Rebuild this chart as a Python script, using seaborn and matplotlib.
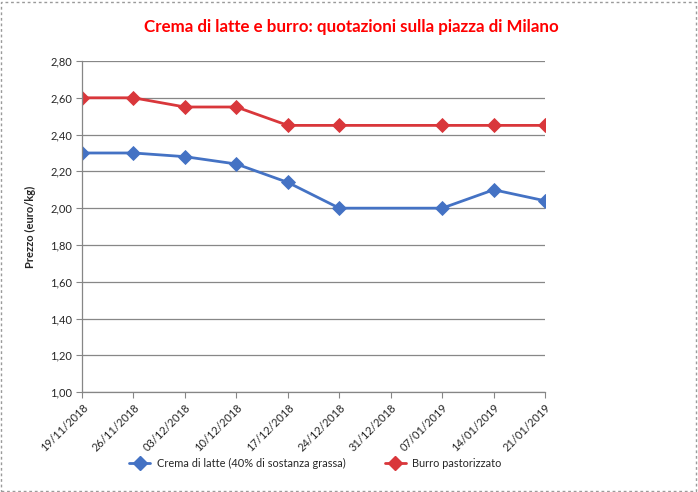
import numpy as np
import pandas as pd
import matplotlib
matplotlib.use("Agg")
import matplotlib.pyplot as plt
from matplotlib.patches import Rectangle
import seaborn as sns

dates = ["19/11/2018", "26/11/2018", "03/12/2018", "10/12/2018", "17/12/2018",
         "24/12/2018", "31/12/2018", "07/01/2019", "14/01/2019", "21/01/2019"]
crema = [2.30, 2.30, 2.28, 2.24, 2.14, 2.00, np.nan, 2.00, 2.10, 2.04]
burro = [2.60, 2.60, 2.55, 2.55, 2.45, 2.45, np.nan, 2.45, 2.45, 2.45]
series_names = ["Crema di latte (40% di sostanza grassa)", "Burro pastorizzato"]
yticks = [1.00, 1.20, 1.40, 1.60, 1.80, 2.00, 2.20, 2.40, 2.60, 2.80]

sns.set_style("white")
plt.rcParams['font.family'] = ['Lato', 'DejaVu Sans']

idx = list(range(len(dates)))
df = pd.DataFrame({
    "x": idx * 2,
    "value": crema + burro,
    "serie": [series_names[0]] * len(dates) + [series_names[1]] * len(dates),
}).dropna()

fig = plt.figure(figsize=(6.98, 4.92), dpi=100)
ax = fig.add_axes([0.1175, 0.203, 0.6635, 0.673])

palette = {series_names[0]: "#4472C4", series_names[1]: "#D9373B"}
sns.lineplot(data=df, x="x", y="value", hue="serie", palette=palette,
             marker="D", markersize=7, linewidth=2, markeredgewidth=0.6,
             ax=ax, legend=False)
for line, name in zip(ax.lines, series_names):
    line.set_markeredgecolor(palette[name])

ax.set_xlim(0, len(dates) - 1)
ax.set_ylim(1.0, 2.8)
ax.set_yticks(yticks)
ax.set_yticklabels([f"{v:.2f}".replace(".", ",") for v in yticks], fontsize=8)
ax.set_xticks(idx)
ax.set_xticklabels(dates, rotation=45, ha="right", rotation_mode="anchor", fontsize=8)
ax.tick_params(axis="x", length=4, color="#868686", direction="out", bottom=True, pad=3)
ax.tick_params(axis="y", length=4, color="#868686", direction="out", left=True, pad=3)
ax.grid(axis="y", color="#878787", linewidth=0.9)
ax.set_axisbelow(True)
for s in ["top", "right"]:
    ax.spines[s].set_visible(False)
for s in ["left", "bottom"]:
    ax.spines[s].set_color("#868686")
    ax.spines[s].set_linewidth(0.9)
ax.set_xlabel("")
ax.set_ylabel("Prezzo (euro/kg)", fontsize=8, fontweight="bold", labelpad=10)

fig.text(0.503, 0.945, "Crema di latte e burro: quotazioni sulla piazza di Milano",
         ha="center", va="center", color="#FF0000", fontsize=12.2, fontweight="bold")

handles = [plt.Line2D([], [], color=palette[n], marker="D", markersize=7,
                      linewidth=2, markeredgecolor=palette[n]) for n in series_names]
fig.legend(handles, series_names, loc="center", bbox_to_anchor=(0.452, 0.058),
           ncol=2, frameon=False, fontsize=7.9, columnspacing=3.6, handlelength=1.9,
           handletextpad=0.6)

fig.patches.append(Rectangle((0.002, 0.003), 0.995, 0.993, transform=fig.transFigure,
                             fill=False, edgecolor="#9a9a9a", linestyle=(0, (2, 2)),
                             linewidth=1))

fig.savefig("out.png", dpi=100)
